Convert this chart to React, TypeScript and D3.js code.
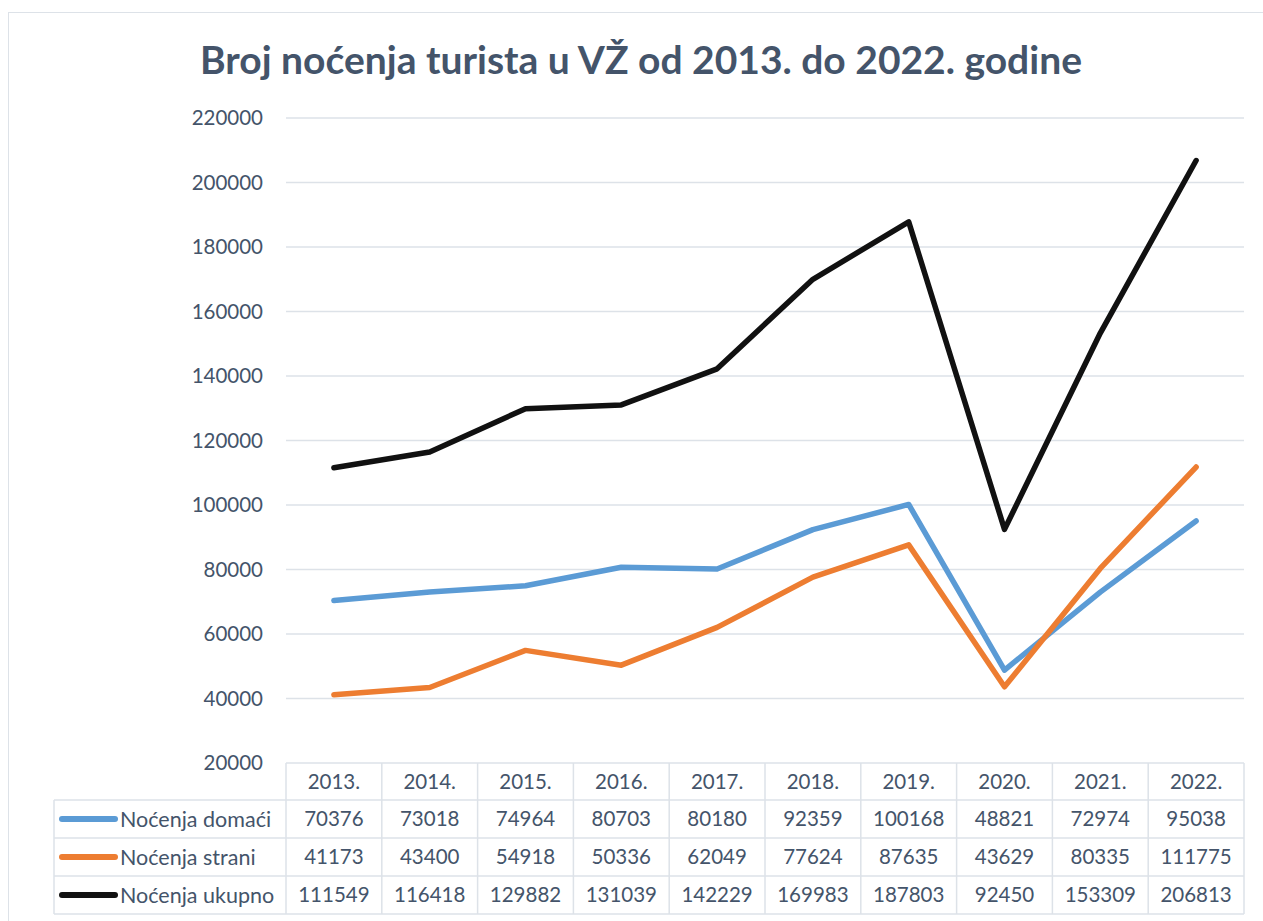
import React from "react";
import * as d3 from "d3";

const years = ["2013.", "2014.", "2015.", "2016.", "2017.", "2018.", "2019.", "2020.", "2021.", "2022."];
const domaci = [70376, 73018, 74964, 80703, 80180, 92359, 100168, 48821, 72974, 95038];
const strani = [41173, 43400, 54918, 50336, 62049, 77624, 87635, 43629, 80335, 111775];
const ukupno = [111549, 116418, 129882, 131039, 142229, 169983, 187803, 92450, 153309, 206813];
const seriesNames = ["Noćenja domaći", "Noćenja strani", "Noćenja ukupno"];
const seriesColors = ["#5B9BD5", "#ED7D31", "#111111"];
const yTicks = [20000, 40000, 60000, 80000, 100000, 120000, 140000, 160000, 180000, 200000, 220000];
const title = "Broj noćenja turista u VŽ od 2013. do 2022. godine";

const W = 1263, H = 921;
const plotL = 286, plotR = 1244, plotT = 118, plotB = 763;
const rowH = 38;
const tableL = 54;
const textColor = "#44546A";
const gridColor = "#DDE2E8";
const font = "Lato, 'Open Sans', sans-serif";

export default function App() {
  const series = [domaci, strani, ukupno];
  const x = d3.scaleBand<string>().domain(years).range([plotL, plotR]);
  const y = d3.scaleLinear().domain([20000, 220000]).range([plotB, plotT]);
  const line = d3.line<number>()
    .x((_, i) => (x(years[i]) as number) + x.bandwidth() / 2)
    .y((d) => y(d));
  const headerB = plotB + rowH - 1;
  const tableB = headerB + rowH * 3;
  return (
    <svg width={W} height={H} style={{ position: "absolute", left: 0, top: 0, background: "#fff" }} fontFamily={font}>
      <rect x={8.5} y={12.5} width={W + 10} height={H + 10} fill="#fff" stroke={gridColor} strokeWidth={1} />
      <text x={641} y={74} textAnchor="middle" fontSize={39} fontWeight={700} fill={textColor}>{title}</text>
      {yTicks.map((t) => (
        <g key={t}>
          {t > 20000 && <line x1={plotL} x2={plotR} y1={y(t)} y2={y(t)} stroke={gridColor} strokeWidth={1.5} />}
          <text x={263} y={y(t)} dy="0.35em" textAnchor="end" fontSize={20.5} fill={textColor}>{t}</text>
        </g>
      ))}
      {/* table */}
      <g stroke={gridColor} strokeWidth={1.5} fill="none">
        <line x1={plotL} x2={plotR} y1={plotB} y2={plotB} />
        {[0, 1, 2, 3].map((r) => (
          <line key={r} x1={tableL} x2={plotR} y1={headerB + r * rowH} y2={headerB + r * rowH} />
        ))}
        <line x1={tableL} x2={tableL} y1={headerB} y2={tableB} />
        {years.map((yr) => (
          <line key={yr} x1={x(yr)} x2={x(yr)} y1={plotB} y2={tableB} />
        ))}
        <line x1={plotR} x2={plotR} y1={plotB} y2={tableB} />
      </g>
      {years.map((yr) => (
        <text key={yr} x={(x(yr) as number) + x.bandwidth() / 2} y={plotB + rowH / 2} dy="0.35em" textAnchor="middle" fontSize={20.5} fill={textColor}>{yr}</text>
      ))}
      {series.map((s, si) => (
        <g key={si}>
          <line x1={62} x2={115} y1={headerB + rowH * si + rowH / 2} y2={headerB + rowH * si + rowH / 2} stroke={seriesColors[si]} strokeWidth={6} strokeLinecap="round" />
          <text x={120} y={headerB + rowH * si + rowH / 2} dy="0.35em" fontSize={21.5} fill={textColor}>{seriesNames[si]}</text>
          {s.map((v, i) => (
            <text key={i} x={(x(years[i]) as number) + x.bandwidth() / 2} y={headerB + rowH * si + rowH / 2} dy="0.35em" textAnchor="middle" fontSize={20.5} fill={textColor}>{v}</text>
          ))}
        </g>
      ))}
      {series.map((s, si) => (
        <path key={si} d={line(s) || ""} fill="none" stroke={seriesColors[si]} strokeWidth={5.5} strokeLinejoin="round" strokeLinecap="round" />
      ))}
    </svg>
  );
}
